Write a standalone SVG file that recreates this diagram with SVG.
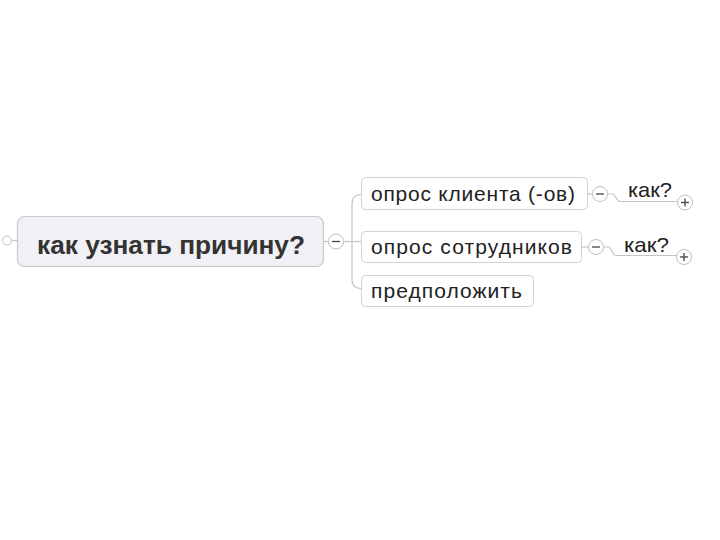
<svg xmlns="http://www.w3.org/2000/svg" width="720" height="540" viewBox="0 0 720 540">
<defs>
<style>
.conn{fill:none;stroke:#c4c4c4;stroke-width:1.2}
.box{fill:#ffffff;stroke:#d2d2d2;stroke-width:1}
.root{fill:#f1f1f5;stroke:#c9c9cd;stroke-width:1.2}
.tog{fill:#ffffff;stroke:#c0c0c0;stroke-width:1}
.sign{stroke:#444;stroke-width:1.3}
.t{font-family:"Liberation Sans",Arial,sans-serif;font-size:21px;fill:#222}
.rt{font-family:"Liberation Sans",Arial,sans-serif;font-size:26px;font-weight:bold;fill:#333}
</style>
</defs>
<rect width="720" height="540" fill="#ffffff"/>
<g id="connectors">
<line class="conn" x1="11.5" y1="240.5" x2="17.5" y2="240.5"/>
<line class="conn" x1="323.5" y1="241.5" x2="328.5" y2="241.5"/>
<path class="conn" d="M343.5 241.5 H361.5"/>
<path class="conn" d="M361.5 194.5 Q352 194.5 352 203 V280 Q352 288.5 361.5 288.5"/>
<line class="conn" x1="587.5" y1="194" x2="592.5" y2="194"/>
<path class="conn" d="M607.5 194 H612 C616 194 616 201.5 620 201.5 H677.5"/>
<line class="conn" x1="581.5" y1="247" x2="588.5" y2="247"/>
<path class="conn" d="M603.5 247 H608 C612 247 612 255.5 616 255.5 H676.5"/>
</g>
<g id="root">
<circle class="tog" cx="7" cy="240.5" r="4.5"/>
<rect class="root" x="17.5" y="216.5" width="306" height="50" rx="7"/>
<text class="rt" x="37" y="254" textLength="268" lengthAdjust="spacingAndGlyphs">как узнать причину?</text>
<circle class="tog" cx="336" cy="241.5" r="7.5"/>
<line class="sign" x1="332" y1="241.5" x2="340" y2="241.5"/>
</g>
<g id="node-klient">
<rect class="box" x="361.5" y="177.5" width="226" height="32" rx="4"/>
<text class="t" x="371" y="201" textLength="204" lengthAdjust="spacing">опрос клиента (-ов)</text>
<circle class="tog" cx="600" cy="194" r="7.5"/>
<line class="sign" x1="596" y1="194" x2="604" y2="194"/>
</g>
<g id="node-kak1">
<text class="t" x="628" y="197" textLength="44" lengthAdjust="spacingAndGlyphs">как?</text>
<circle class="tog" cx="685" cy="202.5" r="7.5"/>
<line class="sign" x1="681" y1="202.5" x2="689" y2="202.5"/>
<line class="sign" x1="685" y1="198.5" x2="685" y2="206.5"/>
</g>
<g id="node-sotr">
<rect class="box" x="361.5" y="231.5" width="220" height="31" rx="4"/>
<text class="t" x="371" y="254" textLength="201" lengthAdjust="spacing">опрос сотрудников</text>
<circle class="tog" cx="596" cy="247" r="7.5"/>
<line class="sign" x1="592" y1="247" x2="600" y2="247"/>
</g>
<g id="node-kak2">
<text class="t" x="624" y="252" textLength="45" lengthAdjust="spacingAndGlyphs">как?</text>
<circle class="tog" cx="684" cy="257" r="7.5"/>
<line class="sign" x1="680" y1="257" x2="688" y2="257"/>
<line class="sign" x1="684" y1="253" x2="684" y2="261"/>
</g>
<g id="node-predp">
<rect class="box" x="361.5" y="275.5" width="172" height="31" rx="4"/>
<text class="t" x="371" y="298" textLength="151" lengthAdjust="spacing">предположить</text>
</g>
</svg>
